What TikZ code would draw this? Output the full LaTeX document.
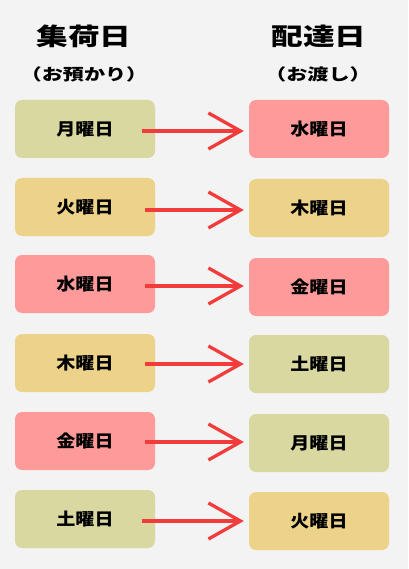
\documentclass[tikz,border=0pt]{standalone}
\usepackage{fontspec}
\newfontfamily\jpbox{Noto Sans CJK JP}[FakeStretch=1.12, BoldFont={Noto Sans CJK JP Black}, BoldFeatures={FakeStretch=1.12}]
\newfontfamily\jptitle{Noto Sans CJK JP}[FakeStretch=1.32, BoldFont={Noto Sans CJK JP Black}, BoldFeatures={FakeStretch=1.32}]
\usepackage{tikz}
\usetikzlibrary{arrows.meta}
\usepackage{xcolor}
\definecolor{sfondo}{HTML}{F3F3F3}
\definecolor{verde}{HTML}{D8D8A0}
\definecolor{giallo}{HTML}{EDD38A}
\definecolor{rosa}{HTML}{FE9A9A}
\definecolor{freccia}{HTML}{F23B3B}
\tikzset{
	giorno/.style={rounded corners=7pt, minimum width=140pt, minimum height=58pt, inner sep=0pt, font=\jpbox\bfseries\fontsize{17}{19}\selectfont},
	titolo/.style={font=\jptitle\bfseries\fontsize{24}{27}\selectfont},
	sottotitolo/.style={font=\jptitle\bfseries\fontsize{16}{19}\selectfont},
	passaggio/.style={draw=freccia, line width=3.3pt, -{Straight Barb[length=32pt,width=36pt]}, shorten >=5pt},
}

\begin{document}
\begin{tikzpicture}[x=1pt, y=-1pt]
		%sfondo
		\fill[sfondo] (0,0) rectangle (408,569);
		\useasboundingbox (0,0) rectangle (408,569);
		%titoli
		\node[titolo] (t1) at (84,36) {集荷日};
		\node[sottotitolo] (s1) at (84,74) {（お預かり）};
		\node[titolo] (t2) at (319,36) {配達日};
		\node[sottotitolo] (s2) at (318,74) {（お渡し）};
		%colonna sinistra: giorno di raccolta
		\node[giorno, fill=verde] (l1) at (85,129) {月曜日};
		\node[giorno, fill=giallo] (l2) at (85,207) {火曜日};
		\node[giorno, fill=rosa] (l3) at (85,284) {水曜日};
		\node[giorno, fill=giallo] (l4) at (85,363) {木曜日};
		\node[giorno, fill=rosa] (l5) at (85,441) {金曜日};
		\node[giorno, fill=verde] (l6) at (85,519) {土曜日};
		%colonna destra: giorno di consegna
		\node[giorno, fill=rosa] (r1) at (319,129) {水曜日};
		\node[giorno, fill=giallo] (r2) at (319,208) {木曜日};
		\node[giorno, fill=rosa] (r3) at (319,287) {金曜日};
		\node[giorno, fill=verde] (r4) at (319,364) {土曜日};
		\node[giorno, fill=verde] (r5) at (319,443) {月曜日};
		\node[giorno, fill=giallo] (r6) at (319,521) {火曜日};
		%frecce
		\draw[passaggio] ([xshift=-13pt,yshift=-2pt]l1.east) -- ([yshift=-2pt]l1.east -| r1.west);
		\draw[passaggio] ([xshift=-10pt,yshift=-3pt]l2.east) -- ([yshift=-3pt]l2.east -| r2.west);
		\draw[passaggio] ([xshift=-10pt,yshift=-2pt]l3.east) -- ([yshift=-2pt]l3.east -| r3.west);
		\draw[passaggio] ([xshift=-10pt,yshift=-1pt]l4.east) -- ([yshift=-1pt]l4.east -| r4.west);
		\draw[passaggio] ([xshift=-10pt,yshift=-1pt]l5.east) -- ([yshift=-1pt]l5.east -| r5.west);
		\draw[passaggio] ([xshift=-13pt,yshift=-2pt]l6.east) -- ([yshift=-2pt]l6.east -| r6.west);
	\end{tikzpicture}
\end{document}
